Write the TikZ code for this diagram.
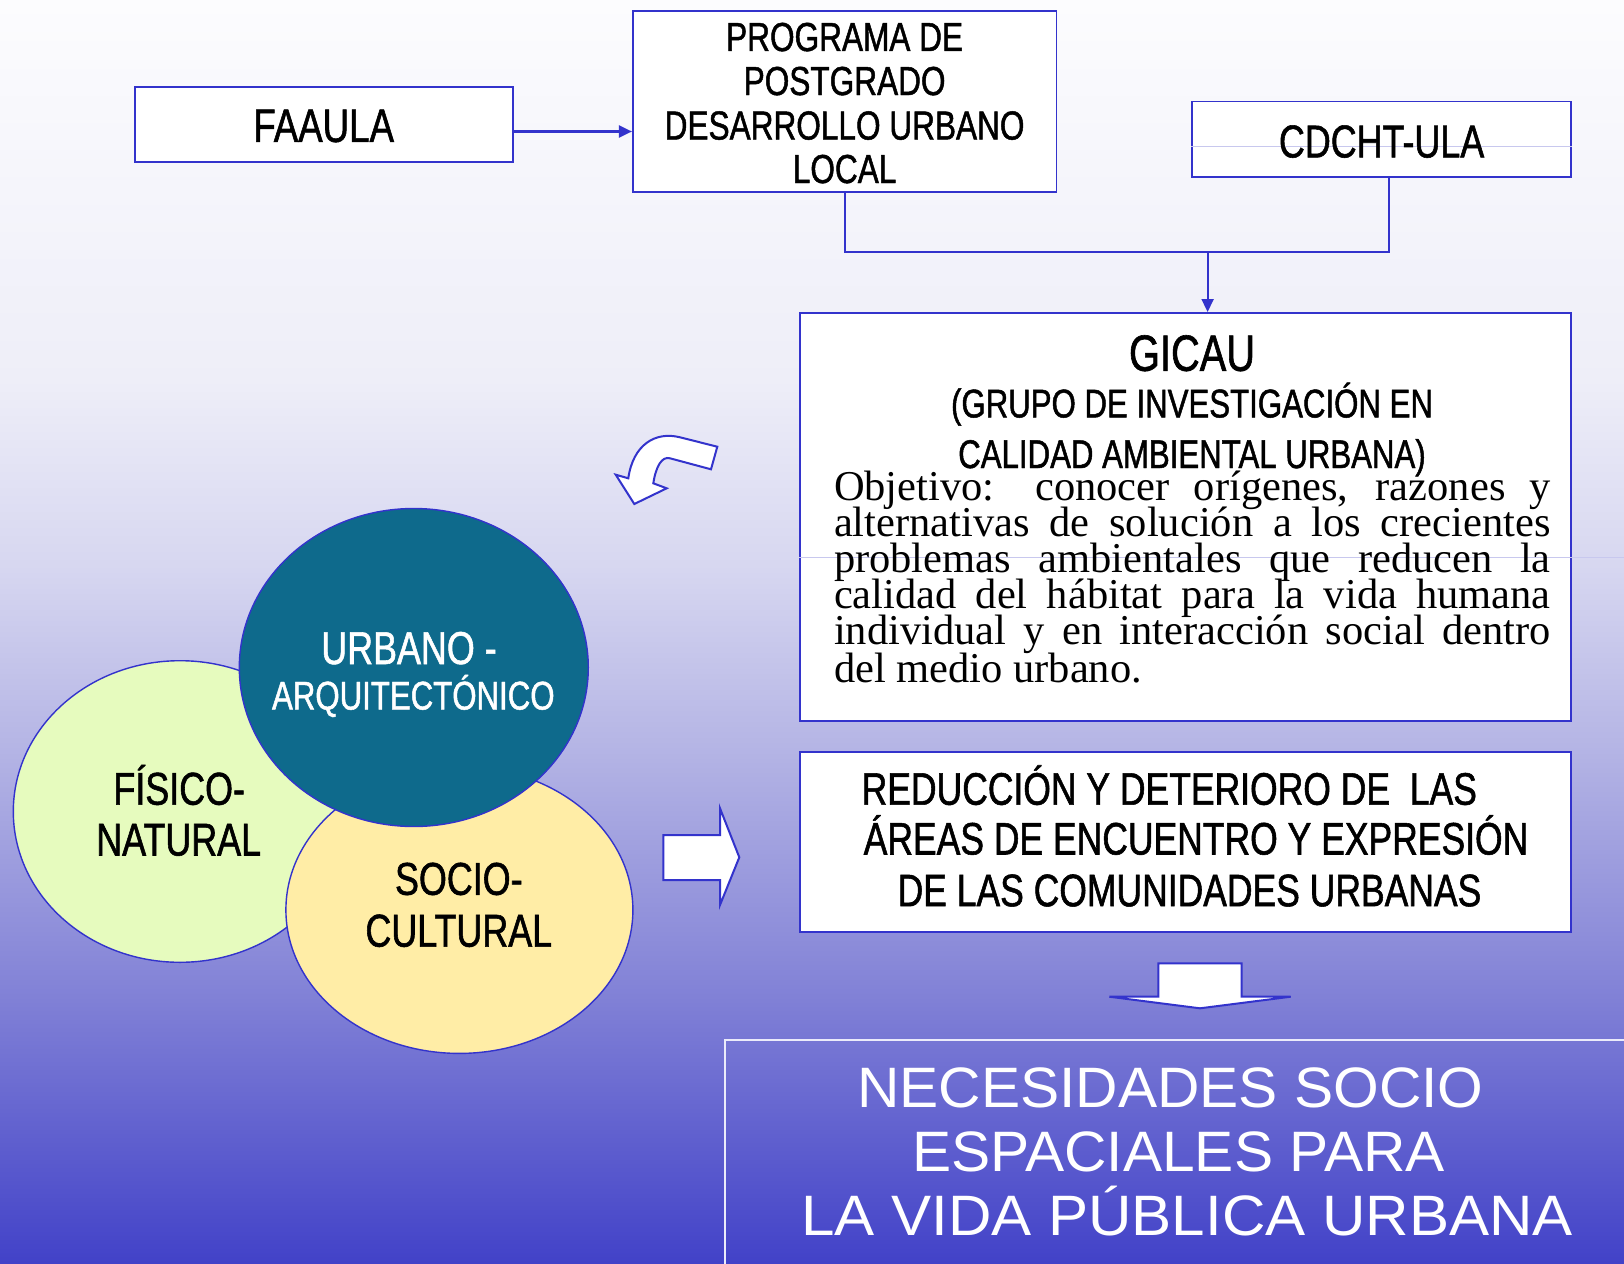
\documentclass[tikz,border=0pt]{standalone}
\usepackage{fontspec}
\setmainfont{Liberation Serif}
\newfontfamily\nsans{Liberation Sans}[FakeStretch=0.78,FakeBold=1.2]
\newfontfamily\wsans{Liberation Sans}[FakeStretch=1.03]
\newfontfamily\wsansb{Liberation Sans}[FakeStretch=1.055]
\usetikzlibrary{shapes.geometric,arrows.meta}
\definecolor{bl}{RGB}{51,51,204}
\definecolor{bgA}{RGB}{252,252,254}
\definecolor{bgB}{RGB}{238,238,248}
\definecolor{bgC}{RGB}{214,214,240}
\definecolor{bgD}{RGB}{178,178,228}
\definecolor{bgE}{RGB}{128,128,214}
\definecolor{bgF}{RGB}{66,66,200}
\definecolor{fisc}{RGB}{230,251,190}
\definecolor{socc}{RGB}{255,237,166}
\definecolor{urbc}{RGB}{14,106,140}
\definecolor{faint}{RGB}{200,200,238}
\definecolor{necb}{RGB}{235,235,250}
\begin{document}
\begin{tikzpicture}[x=1pt,y=-1pt,
  box/.style={draw=bl, line width=1.8pt, fill=white, rectangle, inner sep=0pt},
  lbl/.style={inner sep=0pt, anchor=base, font={\nsans\fontsize{#1}{#1}\selectfont}},
  par/.style={inner sep=0pt, anchor=base west, font={\fontsize{42.5}{36}\selectfont}},
  big/.style={inner sep=0pt, anchor=base, text=white, font={\wsans\fontsize{57}{57}\selectfont}},
  blob/.style={ellipse, draw=bl, line width=1.4pt, inner sep=0pt},
  conn/.style={draw=bl, line width=2.2pt},
  blockarrow/.style={draw=bl, line width=2pt, fill=white, line join=miter}]
\useasboundingbox (0,0) rectangle (1624,1263);
% background
\shade[top color=bgA, bottom color=bgB] (0,0) rectangle (1624,381);
\shade[top color=bgB, bottom color=bgC] (0,380) rectangle (1624,571);
\shade[top color=bgC, bottom color=bgD] (0,570) rectangle (1624,761);
\shade[top color=bgD, bottom color=bgE] (0,760) rectangle (1624,1001);
\shade[top color=bgE, bottom color=bgF] (0,1000) rectangle (1624,1263);

% boxes
\node[box, minimum width=378pt, minimum height=74.6pt] (faaula) at (323.7,124.3) {};
\node[box, minimum width=423.6pt, minimum height=180.2pt] (prog) at (844.6,101.5) {};
\node[box, minimum width=379pt, minimum height=75.5pt] (cdcht) at (1381.5,139.3) {};
\node[box, minimum width=771.4pt, minimum height=408pt] (gicau) at (1185.3,516.9) {};
\node[box, minimum width=771.4pt, minimum height=180pt] (reduc) at (1185.3,842) {};
\draw[draw=faint, line width=0.8pt] (cdcht.west |- 0,146) -- (cdcht.east |- 0,146);
\draw[draw=faint, line width=0.8pt] (gicau.west |- 0,557) -- (1624,557);

% connectors
\coordinate (a1) at (0,131.5);
\coordinate (j1) at (844.6,251.7);
\coordinate (j2) at (1389,251.7);
\coordinate (jm) at (1207.6,251.7);
\draw[conn, -{Triangle[length=13pt,width=12pt]}] (faaula.east |- a1) -- (prog.west |- a1);
\draw[conn] (prog.south) -- (j1) -- (j2) -- (cdcht.south -| j2);
\draw[conn, -{Triangle[length=13pt,width=12pt]}] (jm) -- (gicau.north -| jm);

% texts in boxes
\node[lbl=47] (tfa) at (323.7,141.9) {FAAULA};
\node[lbl=40.5] (tp1) at (844.6,51) {PROGRAMA DE};
\node[lbl=40.5] (tp2) at (844.6,95) {POSTGRADO};
\node[lbl=40.5] (tp3) at (844.6,139.5) {DESARROLLO URBANO};
\node[lbl=40.5] (tp4) at (844.6,183) {LOCAL};
\node[lbl=46] (tcd) at (1381.6,157.4) {CDCHT-ULA};
\node[lbl=51] (tg1) at (1192,370.8) {GICAU};
\node[lbl=40] (tg2) at (1192,417.4) {(GRUPO DE INVESTIGACIÓN EN};
\node[lbl=40] (tg3) at (1192,468) {CALIDAD AMBIENTAL URBANA)};
\node[par] (o1) at (833.8,500.5) {\makebox[716.7pt][s]{Objetivo: conocer orígenes, razones y}};
\node[par] (o2) at (833.8,536.5) {\makebox[716.7pt][s]{alternativas de solución a los crecientes}};
\node[par] (o3) at (833.8,572.5) {\makebox[716.7pt][s]{problemas ambientales que reducen la}};
\node[par] (o4) at (833.8,608.5) {\makebox[716.7pt][s]{calidad del hábitat para la vida humana}};
\node[par] (o5) at (833.8,644.5) {\makebox[716.7pt][s]{individual y en interacción social dentro}};
\node[par] (o6) at (833.8,682.5) {del medio urbano.};
\node[lbl=45.5] (r1) at (1169.3,804.7) {REDUCCIÓN Y DETERIORO DE\ \ LAS};
\node[lbl=45.5] (r2) at (1196,854.5) {ÁREAS DE ENCUENTRO Y EXPRESIÓN};
\node[lbl=45.5] (r3) at (1189.5,906.2) {DE LAS COMUNIDADES URBANAS};

% ellipses
\node[blob, fill=fisc, minimum width=333.4pt, minimum height=301.6pt] (fis) at (180,811.5) {};
\node[blob, fill=socc, minimum width=347pt, minimum height=287pt] (soc) at (459.4,909.9) {};
\node[blob, fill=urbc, minimum width=349pt, minimum height=318pt] (urb) at (413.8,667.5) {};
\node[lbl=46, text=white] (u1) at (409,664) {URBANO -};
\node[lbl=40, text=white] (u2) at (413.3,709.5) {ARQUITECTÓNICO};
\node[lbl=46] (f1) at (179.2,804.7) {FÍSICO-};
\node[lbl=46] (f2) at (178.7,855.5) {NATURAL};
\node[lbl=46] (s1) at (458.8,894.8) {SOCIO-};
\node[lbl=46] (s2) at (458.8,946.6) {CULTURAL};

% block arrows
\draw[blockarrow] (717.3,446.7) -- (680,437.3)
   .. controls (655,431) and (633,445) .. (628.3,478.3)
   -- (615.7,474.7) -- (634.3,504) -- (666.7,488.3) -- (653.3,483.3)
   .. controls (656,466) and (662,456) .. (670,458.3)
   -- (711,469.3) -- cycle;
\draw[blockarrow] (663.3,835) -- (720,835) -- (720,808.3) -- (739.3,857.3)
   -- (720,905) -- (720,880) -- (663.3,880) -- cycle;
\draw[blockarrow] (1158.3,963.3) -- (1241.7,963.3) -- (1241.7,996.7) -- (1290.7,996.7)
   -- (1200,1008.3) -- (1109.3,996.7) -- (1158.3,996.7) -- cycle;

% bottom box
\node[draw=necb, line width=1.6pt, rectangle, inner sep=0pt,
      minimum width=910pt, minimum height=240pt, anchor=north west] (nec) at (724,1039) {};
\node[big] (n1) at (1170.4,1107) {NECESIDADES SOCIO};
\node[big] (n2) at (1178.6,1171.4) {ESPACIALES PARA};
\node[big, font={\wsansb\fontsize{57}{57}\selectfont}] (n3) at (1187,1235.6) {LA VIDA PÚBLICA URBANA};
\end{tikzpicture}
\end{document}
